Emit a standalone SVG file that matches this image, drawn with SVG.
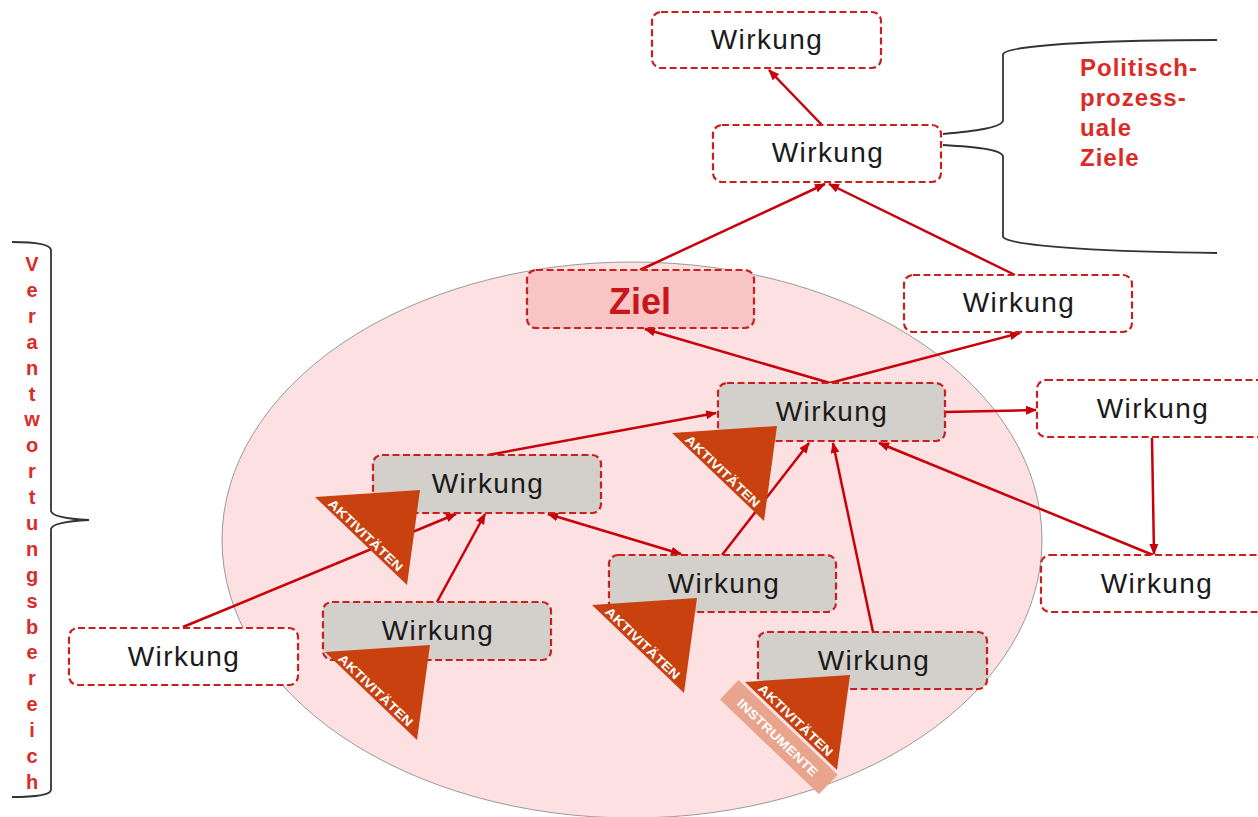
<svg xmlns="http://www.w3.org/2000/svg" xmlns:xlink="http://www.w3.org/1999/xlink" width="1258" height="817" viewBox="0 0 1258 817">
<style>
.box{stroke:#c9201e;stroke-width:2.2;stroke-dasharray:7 3.5;}
.w{fill:#ffffff;}
.g{fill:#d3cfcb;}
.lbl{font-family:"Liberation Sans",Arial,sans-serif;font-size:28px;fill:#1a1a1a;text-anchor:middle;letter-spacing:1.4px;}
.con{fill:none;stroke:#c8000a;stroke-width:2.5;marker-end:url(#ah);}
.tri{fill:#c8410e;}
.tt{font-family:"Liberation Sans",Arial,sans-serif;font-size:12.5px;font-weight:bold;fill:#ffffff;}
.brace{fill:none;stroke:#333333;stroke-width:1.8;}
.red{font-family:"Liberation Sans",Arial,sans-serif;font-weight:bold;fill:#dc2b27;}
</style>
<defs>
<marker id="ah" markerUnits="userSpaceOnUse" markerWidth="11" markerHeight="9" refX="10" refY="4.5" orient="auto-start-reverse">
<path d="M0,0 L11,4.5 L0,9 z" fill="#c8000a"/>
</marker>
<g id="akt">
<polygon class="tri" points="0,0 105,-7 92,88"/>
<text class="tt" transform="rotate(43.7)" x="14" y="-3" textLength="98" lengthAdjust="spacingAndGlyphs">AKTIVITÄTEN</text>
</g>
</defs>
<rect width="1258" height="817" fill="#ffffff"/>
<ellipse id="verantwortungsbereich" cx="632" cy="540" rx="410" ry="278" fill="#fde0e1" stroke="#9a9a9a" stroke-width="1"/>

<g id="braces">
<path class="brace" d="M1217,40 C1120,40 1010,44 1003,54 L1003,121 C1000,128 975,131 943,134 M943,145 C975,147 1000,149 1003,156 L1003,237 C1010,247 1120,252 1217,253"/>
<path class="brace" d="M12,242 C30,242 50,243 51,250 L51,511 C52,517 70,519 89,520 C70,521 52,523 51,529 L51,790 C50,796 30,797 12,797"/>
</g>
<g id="labels">
<text class="red" font-size="24" letter-spacing="1">
<tspan x="1080" y="76">Politisch-</tspan>
<tspan x="1080" y="106">prozess-</tspan>
<tspan x="1080" y="136">uale</tspan>
<tspan x="1080" y="166">Ziele</tspan>
</text>
<text class="red" font-size="20" text-anchor="middle">
<tspan x="32" y="271">V</tspan><tspan x="32" dy="25.9">e</tspan><tspan x="32" dy="25.9">r</tspan><tspan x="32" dy="25.9">a</tspan><tspan x="32" dy="25.9">n</tspan><tspan x="32" dy="25.9">t</tspan><tspan x="32" dy="25.9">w</tspan><tspan x="32" dy="25.9">o</tspan><tspan x="32" dy="25.9">r</tspan><tspan x="32" dy="25.9">t</tspan><tspan x="32" dy="25.9">u</tspan><tspan x="32" dy="25.9">n</tspan><tspan x="32" dy="25.9">g</tspan><tspan x="32" dy="25.9">s</tspan><tspan x="32" dy="25.9">b</tspan><tspan x="32" dy="25.9">e</tspan><tspan x="32" dy="25.9">r</tspan><tspan x="32" dy="25.9">e</tspan><tspan x="32" dy="25.9">i</tspan><tspan x="32" dy="25.9">c</tspan><tspan x="32" dy="25.9">h</tspan>
</text>
</g>

<g id="connectors">
<path class="con" d="M822,125 L769,70"/>
<path class="con" d="M640,270 L825,184"/>
<path class="con" d="M1015,275 L829,184"/>
<path class="con" d="M830,383 L645,329"/>
<path class="con" d="M830,383 L1020,333"/>
<path class="con" d="M945,412 L1036,410"/>
<path class="con" d="M1152,438 L1154,554"/>
<path class="con" d="M1153,555 L879,443"/>
<path class="con" d="M488,455 L716,413"/>
<path class="con" d="M183,627 L456,514"/>
<path class="con" d="M437,602 L485,514"/>
<path class="con" d="M548,514 L681,554" marker-start="url(#ah)"/>
<path class="con" d="M722,555 L809,443"/>
<path class="con" d="M873,632 L833,443"/>
</g>

<g id="wirkung-top">
<rect class="box w" x="652" y="12" width="229" height="56" rx="9"/>
<text class="lbl" x="767" y="49">Wirkung</text>
</g>
<g id="wirkung-2">
<rect class="box w" x="713" y="125" width="228" height="57" rx="9"/>
<text class="lbl" x="828" y="162">Wirkung</text>
</g>
<g id="ziel">
<rect class="box" x="527" y="270" width="227" height="58" rx="9" fill="#f8c4c4"/>
<text x="640" y="314" font-family="Liberation Sans, Arial, sans-serif" font-size="36" font-weight="bold" fill="#c8161d" text-anchor="middle">Ziel</text>
</g>
<g id="wirkung-right-upper">
<rect class="box w" x="904" y="275" width="228" height="57" rx="9"/>
<text class="lbl" x="1019" y="312">Wirkung</text>
</g>
<g id="wirkung-right">
<rect class="box w" x="1037" y="380" width="230" height="57" rx="9"/>
<text class="lbl" x="1153" y="418">Wirkung</text>
</g>
<g id="wirkung-right-lower">
<rect class="box w" x="1041" y="555" width="230" height="57" rx="9"/>
<text class="lbl" x="1157" y="593">Wirkung</text>
</g>
<g id="wirkung-left">
<rect class="box w" x="69" y="628" width="229" height="57" rx="9"/>
<text class="lbl" x="184" y="666">Wirkung</text>
</g>
<g id="wirkung-center">
<rect class="box g" x="718" y="383" width="227" height="58" rx="9"/>
<text class="lbl" x="832" y="421">Wirkung</text>
<use xlink:href="#akt" transform="translate(672,433)"/>
</g>
<g id="wirkung-left-mid">
<rect class="box g" x="373" y="455" width="228" height="58" rx="9"/>
<text class="lbl" x="488" y="493">Wirkung</text>
<use xlink:href="#akt" transform="translate(315,497)"/>
</g>
<g id="wirkung-mid">
<rect class="box g" x="609" y="555" width="227" height="57" rx="9"/>
<text class="lbl" x="724" y="593">Wirkung</text>
<use xlink:href="#akt" transform="translate(592,605)"/>
</g>
<g id="wirkung-lower-left">
<rect class="box g" x="323" y="602" width="228" height="58" rx="9"/>
<text class="lbl" x="438" y="640">Wirkung</text>
<use xlink:href="#akt" transform="translate(325,652)"/>
</g>
<g id="wirkung-lower-right">
<rect class="box g" x="758" y="632" width="229" height="57" rx="9"/>
<text class="lbl" x="874" y="670">Wirkung</text>
<g transform="translate(745,682)">
<g transform="rotate(43.7)">
<rect x="-6" y="3" width="137" height="27" fill="#e9a48e"/>
<text class="tt" x="9" y="22" textLength="106" lengthAdjust="spacingAndGlyphs" fill="#fdeee9">INSTRUMENTE</text>
</g>
<use xlink:href="#akt"/>
</g>
</g>
</svg>
